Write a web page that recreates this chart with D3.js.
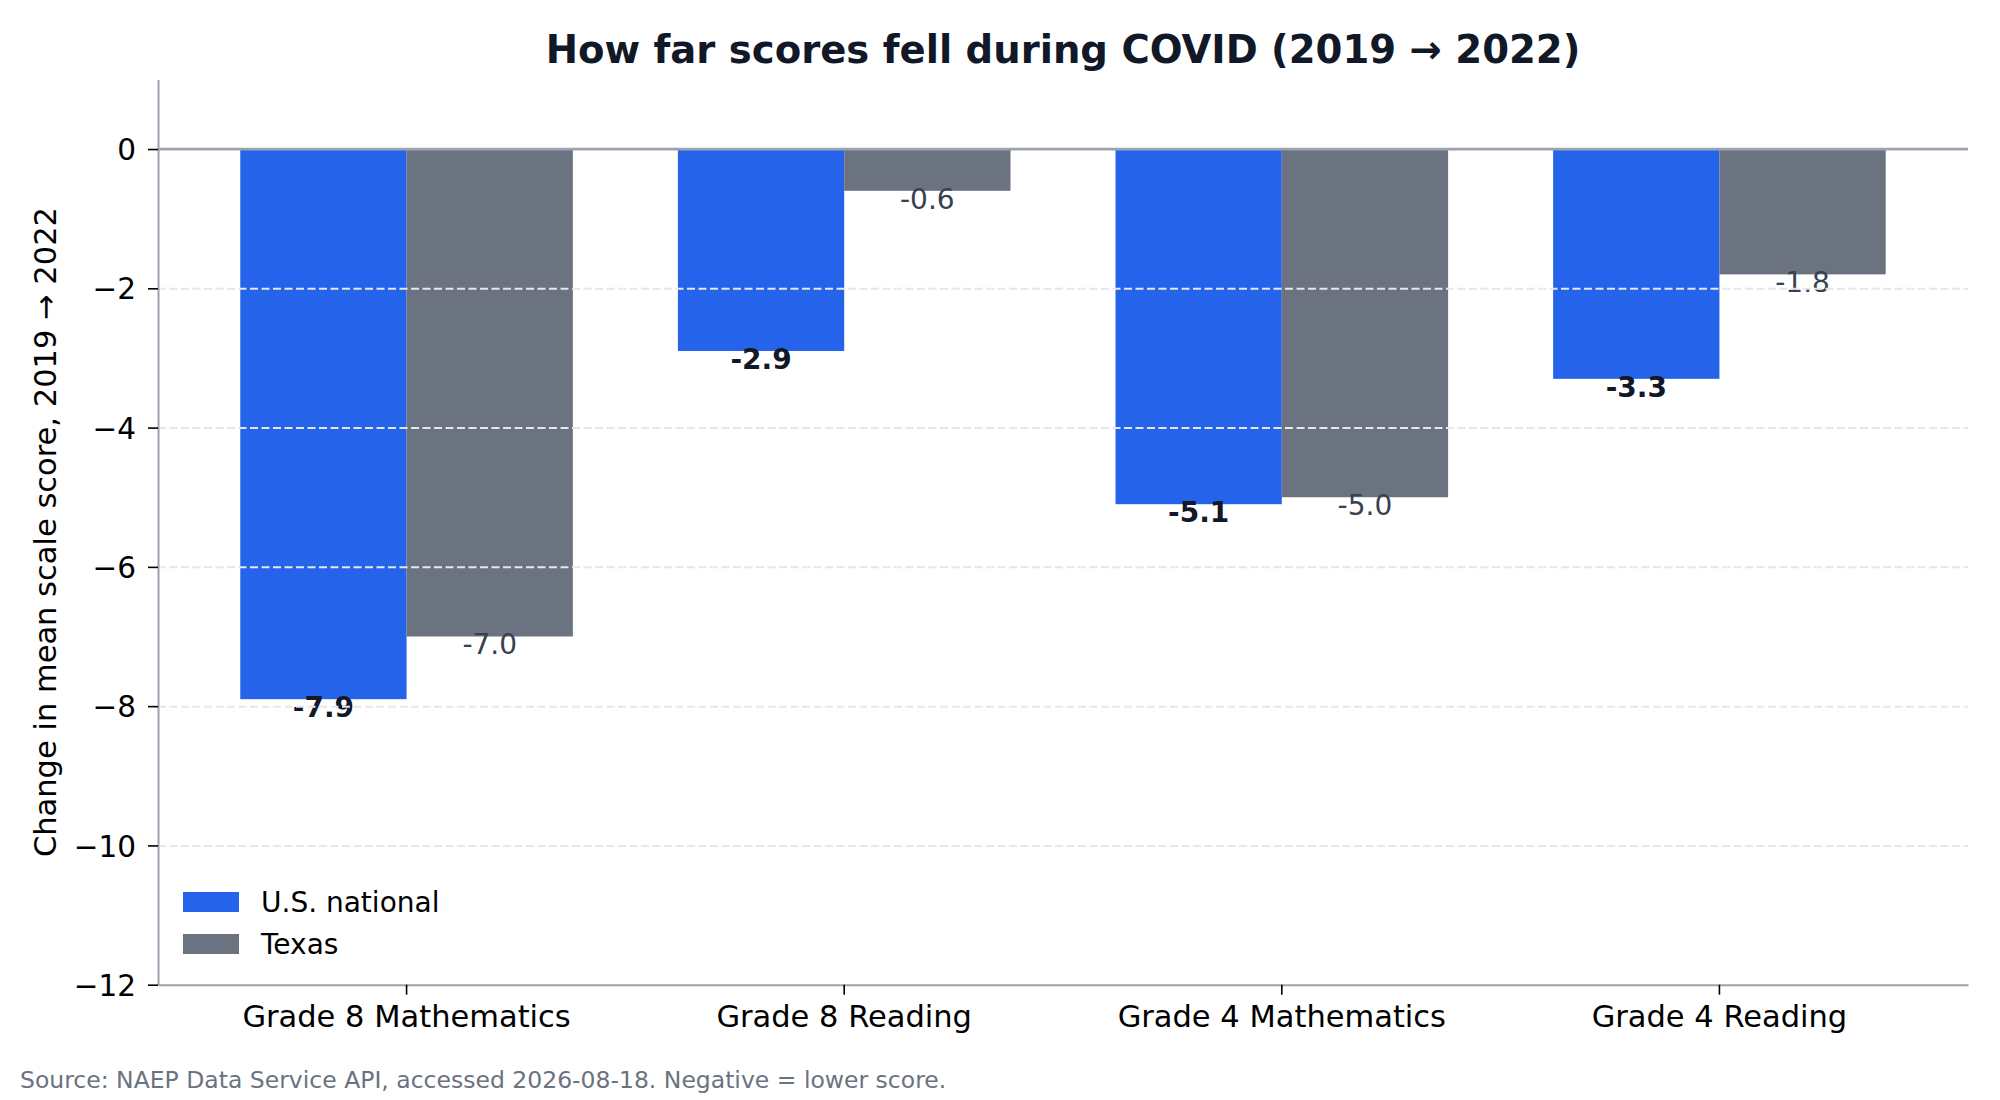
<!DOCTYPE html>
<html>
<head>
<meta charset="utf-8">
<script src="https://cdn.jsdelivr.net/npm/d3@7"></script>
<style>
  html, body { margin: 0; padding: 0; background: #fff; }
  svg { display: block; font-family: 'DejaVu Sans', sans-serif; }
  .axis .tick line { stroke: #000; stroke-width: 1.6; }
  .axis .tick text { fill: #000; font-size: 29.5px; font-family: 'DejaVu Sans', sans-serif; }
  .x-axis .tick text { font-size: 30.5px; }
  .axis path.domain { stroke: #9ca3af; stroke-width: 2; }
  .grid line { stroke: #e5e7eb; stroke-width: 2; stroke-dasharray: 8 3.5; }
  .grid path { display: none; }
</style>
</head>
<body>
<div id="chart"></div>
<script>
const categories = ['Grade 8 Mathematics', 'Grade 8 Reading', 'Grade 4 Mathematics', 'Grade 4 Reading'];
const seriesNames = ['U.S. national', 'Texas'];
const nationalValues = [-7.9, -2.9, -5.1, -3.3];
const texasValues = [-7.0, -0.6, -5.0, -1.8];
const yTicks = [-12, -10, -8, -6, -4, -2, 0];
const yDomain = [-12, 1];

const colors = { 'U.S. national': '#2563eb', 'Texas': '#6b7280' };

const width = 2000;
const height = 1100;
const margin = { top: 79.4, right: 32, bottom: 115.3, left: 158 };
const plotW = width - margin.left - margin.right;
const plotH = height - margin.top - margin.bottom;

const rows = categories.map((c, i) => ({
  category: c,
  values: [
    { series: seriesNames[0], value: nationalValues[i] },
    { series: seriesNames[1], value: texasValues[i] }
  ]
}));

const svg = d3.select('#chart')
  .append('svg')
  .attr('width', width)
  .attr('height', height);

svg.append('rect')
  .attr('width', width)
  .attr('height', height)
  .attr('fill', '#fff');

const g = svg.append('g')
  .attr('transform', 'translate(' + margin.left + ',' + margin.top + ')');

const x = d3.scaleBand()
  .domain(categories)
  .range([0, plotW])
  .paddingInner(0.24)
  .paddingOuter(0.188);

const xInner = d3.scaleBand()
  .domain(seriesNames)
  .range([0, x.bandwidth()])
  .padding(0);

const y = d3.scaleLinear()
  .domain(yDomain)
  .range([plotH, 0]);

// bars
const groups = g.selectAll('.group')
  .data(rows)
  .enter()
  .append('g')
  .attr('class', 'group')
  .attr('transform', d => 'translate(' + x(d.category) + ',0)');

groups.selectAll('rect')
  .data(d => d.values)
  .enter()
  .append('rect')
  .attr('x', d => xInner(d.series))
  .attr('width', xInner.bandwidth())
  .attr('y', d => y(Math.max(0, d.value)))
  .attr('height', d => Math.abs(y(d.value) - y(0)))
  .attr('fill', d => colors[d.series]);

// dashed grid on top of the bars
g.append('g')
  .attr('class', 'grid')
  .call(d3.axisLeft(y)
    .tickValues(yTicks.filter(t => t !== 0 && t !== yDomain[0]))
    .tickSize(-plotW)
    .tickFormat('')
  );

// zero line
g.append('line')
  .attr('x1', 0)
  .attr('x2', plotW)
  .attr('y1', y(0))
  .attr('y2', y(0))
  .attr('stroke', '#9ca3af')
  .attr('stroke-width', 2.7);

// value labels
groups.selectAll('.value-label')
  .data(d => d.values)
  .enter()
  .append('text')
  .attr('class', 'value-label')
  .attr('x', d => xInner(d.series) + xInner.bandwidth() / 2)
  .attr('y', d => y(d.value) + 18)
  .attr('text-anchor', 'middle')
  .style('font-size', '28px')
  .style('font-weight', d => d.series === seriesNames[0] ? 'bold' : 'normal')
  .attr('fill', d => d.series === seriesNames[0] ? '#111827' : '#374151')
  .text(d => d.value.toFixed(1));

// axes
g.append('g')
  .attr('class', 'axis')
  .call(d3.axisLeft(y)
    .tickValues(yTicks)
    .tickSize(10)
    .tickSizeOuter(0)
    .tickPadding(12)
  )
  .attr('font-family', null)
  .selectAll('.tick text')
  .attr('dy', '0.36em');

g.append('g')
  .attr('class', 'axis x-axis')
  .attr('transform', 'translate(0,' + plotH + ')')
  .call(d3.axisBottom(x)
    .tickSize(10)
    .tickSizeOuter(0)
    .tickPadding(8)
  )
  .attr('font-family', null)
  .selectAll('.tick text')
  .attr('dy', '0.79em');

// y axis label
svg.append('text')
  .attr('transform', 'translate(56,' + (margin.top + plotH / 2) + ') rotate(-90)')
  .attr('text-anchor', 'middle')
  .style('font-size', '30.5px')
  .attr('fill', '#000')
  .text('Change in mean scale score, 2019 → 2022');

// title
svg.append('text')
  .attr('x', margin.left + plotW / 2)
  .attr('y', 63)
  .attr('text-anchor', 'middle')
  .style('font-size', '38.6px')
  .style('font-weight', 'bold')
  .attr('fill', '#111827')
  .text('How far scores fell during COVID (2019 → 2022)');

// legend
const legend = g.append('g')
  .attr('transform', 'translate(25,' + (892 - margin.top) + ')');

const legendItems = legend.selectAll('.legend-item')
  .data(seriesNames)
  .enter()
  .append('g')
  .attr('class', 'legend-item')
  .attr('transform', (d, i) => 'translate(0,' + (i * 42) + ')');

legendItems.append('rect')
  .attr('width', 56)
  .attr('height', 20)
  .attr('fill', d => colors[d]);

legendItems.append('text')
  .attr('x', 78)
  .attr('y', 10)
  .attr('dy', '0.36em')
  .style('font-size', '28px')
  .attr('fill', '#000')
  .text(d => d);

// source note
svg.append('text')
  .attr('x', 20)
  .attr('y', 1088)
  .style('font-size', '23.5px')
  .attr('fill', '#6b7280')
  .text('Source: NAEP Data Service API, accessed 2026-08-18. Negative = lower score.');
</script>
</body>
</html>
